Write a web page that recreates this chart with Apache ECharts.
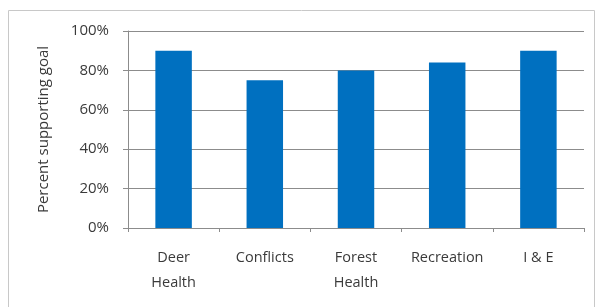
<!DOCTYPE html>
<html>
<head>
<meta charset="utf-8">
<style>
  html, body { margin: 0; padding: 0; background: #fff; }
  #chart { width: 596px; height: 307px; }
</style>
<script src="https://cdn.jsdelivr.net/npm/echarts@6/dist/echarts.min.js"></script>
</head>
<body>
<div id="chart"></div>
<script>
// data
const categories = ['Deer\nHealth', 'Conflicts', 'Forest\nHealth', 'Recreation', 'I & E'];
const support = [90, 75, 80, 84, 90];
const yTicks = [0, 20, 40, 60, 80, 100];

const chart = echarts.init(document.getElementById('chart'));
const font = '"Open Sans", "Liberation Sans", sans-serif';

chart.setOption({
  animation: false,
  graphic: [{
    type: 'rect',
    shape: { x: 8.5, y: 10.5, width: 586, height: 310 },
    style: { fill: 'none', stroke: '#c8c8c8', lineWidth: 1 }
  }],
  grid: { left: 128, right: 12, top: 31, bottom: 79 },
  xAxis: {
    type: 'category',
    data: categories,
    axisLine: { lineStyle: { color: '#8c8c8c' } },
    axisTick: { show: true, length: 4, lineStyle: { color: '#8c8c8c' } },
    axisLabel: {
      color: '#3a3a3a', fontFamily: font, fontSize: 14.5, margin: 17, lineHeight: 25,
      interval: 0, hideOverlap: false
    }
  },
  yAxis: {
    type: 'value',
    min: yTicks[0],
    max: yTicks[yTicks.length - 1],
    interval: 20,
    name: 'Percent supporting goal',
    nameLocation: 'middle',
    nameGap: 77,
    nameTextStyle: { color: '#3a3a3a', fontFamily: font, fontSize: 15 },
    axisLine: { show: true, lineStyle: { color: '#8c8c8c' } },
    axisTick: { show: true, length: 5, lineStyle: { color: '#8c8c8c' } },
    splitLine: { lineStyle: { color: '#8c8c8c' } },
    axisLabel: { color: '#3a3a3a', fontFamily: font, fontSize: 15, margin: 19, formatter: '{value}%' }
  },
  series: [{
    type: 'bar',
    data: support,
    barWidth: '40%',
    itemStyle: { color: '#0070c0' }
  }]
});
</script>
</body>
</html>
